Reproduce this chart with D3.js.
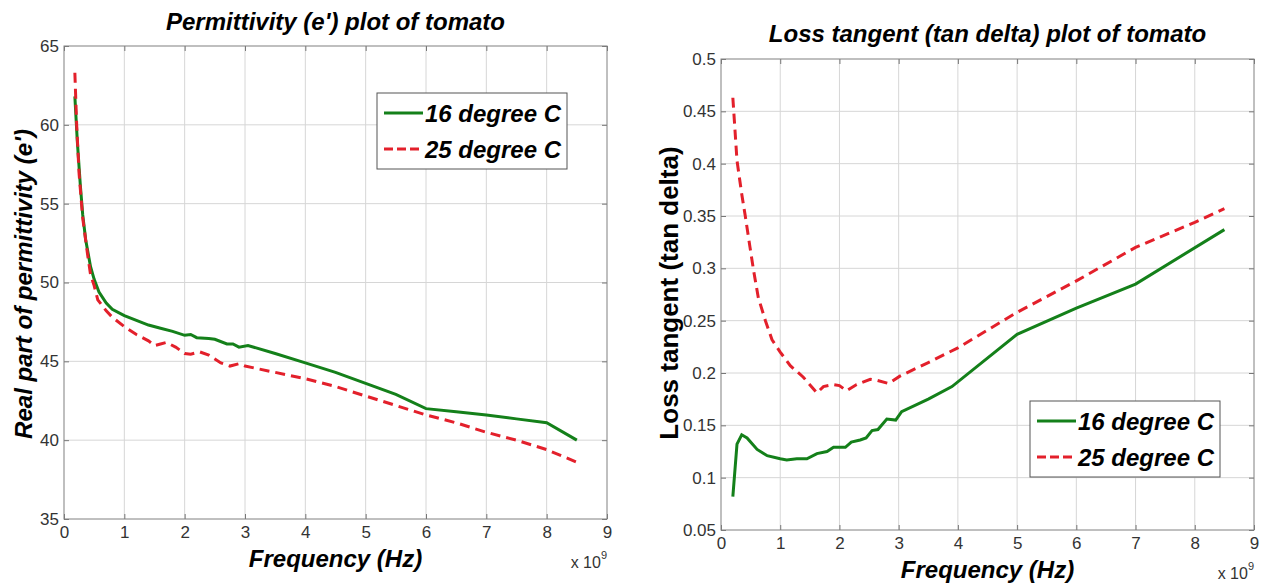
<!DOCTYPE html>
<html>
<head>
<meta charset="utf-8">
<script src="https://cdn.jsdelivr.net/npm/d3@7"></script>
<style>
  body { margin: 0; background: #fff; }
  svg text { font-family: "Liberation Sans", Arial, sans-serif; }
</style>
</head>
<body>
<div id="my_dataviz"></div>
<script>
// frequencies are in units of 10^9 Hz (the axes show "x 10^9")
const freqPerm16 = [0.18, 0.22, 0.27, 0.31, 0.36, 0.44, 0.5, 0.58, 0.7, 0.8, 1.0, 1.2, 1.4, 1.6, 1.8, 2.0, 2.1, 2.2, 2.4, 2.5, 2.7, 2.8, 2.9, 3.05, 3.5, 4.0, 4.5, 5.0, 5.5, 6.0, 6.5, 7.0, 7.5, 8.0, 8.5];
const perm16 = [61.8, 59.0, 56.2, 54.3, 52.7, 51.0, 50.2, 49.4, 48.7, 48.3, 47.9, 47.6, 47.3, 47.1, 46.9, 46.65, 46.7, 46.5, 46.45, 46.4, 46.1, 46.1, 45.9, 46.0, 45.5, 44.9, 44.3, 43.6, 42.9, 42.0, 41.8, 41.6, 41.35, 41.1, 40.0];

const freqPerm25 = [0.18, 0.21, 0.25, 0.31, 0.39, 0.44, 0.5, 0.56, 0.7, 0.8, 1.0, 1.2, 1.4, 1.5, 1.6, 1.7, 1.85, 2.0, 2.1, 2.25, 2.4, 2.6, 2.75, 2.9, 3.0, 3.5, 4.0, 4.5, 5.0, 5.5, 6.0, 6.5, 7.0, 7.5, 8.0, 8.5];
const perm25 = [63.3, 60.0, 56.9, 54.1, 51.8, 50.5, 49.8, 48.9, 48.2, 47.8, 47.2, 46.7, 46.3, 46.0, 46.1, 46.2, 45.9, 45.5, 45.45, 45.6, 45.4, 44.9, 44.7, 44.85, 44.7, 44.3, 43.9, 43.4, 42.8, 42.2, 41.6, 41.1, 40.5, 40.0, 39.4, 38.6];

const freqLoss16 = [0.2, 0.27, 0.35, 0.44, 0.61, 0.78, 1.0, 1.11, 1.28, 1.45, 1.62, 1.79, 1.9, 2.1, 2.2, 2.35, 2.45, 2.55, 2.65, 2.8, 2.95, 3.05, 3.5, 3.9, 5.0, 6.0, 7.0, 8.5];
const loss16 = [0.082, 0.132, 0.141, 0.138, 0.127, 0.121, 0.118, 0.117, 0.118, 0.118, 0.123, 0.125, 0.129, 0.129, 0.134, 0.136, 0.138, 0.145, 0.146, 0.156, 0.155, 0.163, 0.175, 0.187, 0.237, 0.262, 0.285, 0.337];

const freqLoss25 = [0.2, 0.27, 0.35, 0.41, 0.49, 0.55, 0.63, 0.75, 0.86, 1.0, 1.17, 1.39, 1.62, 1.73, 1.9, 2.0, 2.12, 2.29, 2.52, 2.63, 2.83, 3.02, 3.5, 4.0, 5.0, 6.0, 7.0, 8.0, 8.5];
const loss25 = [0.463, 0.403, 0.371, 0.35, 0.32, 0.298, 0.272, 0.25, 0.232, 0.22, 0.207, 0.196, 0.181, 0.187, 0.189, 0.188, 0.183, 0.189, 0.194, 0.193, 0.19, 0.197, 0.21, 0.224, 0.258, 0.288, 0.32, 0.344, 0.357];

const seriesLabels = ["16 degree C", "25 degree C"];
const freqTicks = [0, 1, 2, 3, 4, 5, 6, 7, 8, 9];
const permTicks = [35, 40, 45, 50, 55, 60, 65];
const lossTicks = [0.05, 0.1, 0.15, 0.2, 0.25, 0.3, 0.35, 0.4, 0.45, 0.5];

const green = "#14801a", red = "#e3202b";

let svg = d3.select("#my_dataviz")
  .append("svg")
    .attr("width", 1268)
    .attr("height", 585);

function zip(xs, ys) {
  return xs.map(function(f, i) { return {f: f, v: ys[i]}; });
}

function drawPanel(p) {
  let x = d3.scaleLinear().domain([0, 9]).range([p.left, p.right]);
  let y = d3.scaleLinear().domain(p.yDomain).range([p.bottom, p.top]);
  let g = svg.append("g");

  // grid
  g.selectAll("vgrid")
    .data(freqTicks.slice(1, -1))
    .enter()
    .append("line")
      .attr("x1", d => x(d)).attr("x2", d => x(d))
      .attr("y1", p.top).attr("y2", p.bottom)
      .attr("stroke", "#d6d6d6");
  g.selectAll("hgrid")
    .data(p.yTicks.slice(1, -1))
    .enter()
    .append("line")
      .attr("x1", p.left).attr("x2", p.right)
      .attr("y1", d => y(d)).attr("y2", d => y(d))
      .attr("stroke", "#d6d6d6");

  // axes, ticks pointing inward like matlab
  let fmt = d => String(d);
  g.append("g").attr("transform", "translate(0," + p.bottom + ")")
    .call(d3.axisBottom(x).tickValues(freqTicks).tickFormat(fmt).tickSizeInner(-5).tickSizeOuter(0).tickPadding(p.xPad));
  g.append("g").attr("transform", "translate(" + p.left + ",0)")
    .call(d3.axisLeft(y).tickValues(p.yTicks).tickFormat(fmt).tickSizeInner(-5).tickSizeOuter(0).tickPadding(5));
  g.append("g").attr("transform", "translate(0," + p.top + ")")
    .call(d3.axisTop(x).tickValues(freqTicks).tickFormat("").tickSizeInner(-5).tickSizeOuter(0));
  g.append("g").attr("transform", "translate(" + p.right + ",0)")
    .call(d3.axisRight(y).tickValues(p.yTicks).tickFormat("").tickSizeInner(-5).tickSizeOuter(0));
  g.selectAll(".domain").remove();
  g.selectAll(".tick line").attr("stroke", "#777");
  g.selectAll(".tick text").style("font-size", "17px").style("fill", "#333");

  g.append("rect")
    .attr("x", p.left).attr("y", p.top)
    .attr("width", p.right - p.left).attr("height", p.bottom - p.top)
    .attr("fill", "none").attr("stroke", "#808080");

  // data lines
  let line = d3.line()
    .x(d => x(d.f))
    .y(d => y(d.v));
  let series = [
    {label: seriesLabels[0], color: green, dash: null, values: zip(p.f16, p.v16)},
    {label: seriesLabels[1], color: red, dash: "10,6", values: zip(p.f25, p.v25)}
  ];
  g.selectAll("myLines")
    .data(series)
    .enter()
    .append("path")
      .attr("d", d => line(d.values))
      .attr("stroke", d => d.color)
      .attr("stroke-dasharray", d => d.dash)
      .style("stroke-width", 3)
      .style("fill", "none");

  // titles
  g.append("text")
    .attr("x", (p.left + p.right) / 2).attr("y", p.titleY)
    .attr("text-anchor", "middle")
    .style("font-size", "24px").style("font-weight", "bold").style("font-style", "italic")
    .text(p.title);
  g.append("text")
    .attr("x", (p.left + p.right) / 2).attr("y", p.xLabelY)
    .attr("text-anchor", "middle")
    .style("font-size", "24px").style("font-weight", "bold").style("font-style", "italic")
    .text("Frequency (Hz)");
  g.append("text")
    .attr("transform", "translate(" + p.yLabelX + "," + p.yLabelMid + ") rotate(-90)")
    .attr("text-anchor", "middle")
    .style("font-size", p.yLabelSize).style("font-weight", "bold").style("font-style", p.yLabelStyle)
    .text(p.yLabel);

  // x 10^9 exponent
  let ex = g.append("text")
    .attr("x", p.right).attr("y", p.expY)
    .attr("text-anchor", "end")
    .style("font-size", "16px").style("fill", "#333");
  ex.append("tspan").text("x 10");
  ex.append("tspan").attr("dy", -9).style("font-size", "11px").text("9");

  // legend
  let lg = g.append("g").attr("transform", "translate(" + p.legend[0] + "," + p.legend[1] + ")");
  lg.append("rect")
    .attr("width", 190).attr("height", 76)
    .attr("fill", "#fff").attr("stroke", "#555");
  let rows = lg.selectAll("myLegend")
    .data(series)
    .enter()
    .append("g")
      .attr("transform", (d, i) => "translate(0," + (20 + i * 36) + ")");
  rows.append("line")
    .attr("x1", 7).attr("x2", 46)
    .attr("stroke", d => d.color)
    .attr("stroke-dasharray", d => d.dash ? "9,4" : null)
    .style("stroke-width", 3);
  rows.append("text")
    .attr("x", 48).attr("y", 9)
    .style("font-size", "24px").style("font-weight", "bold").style("font-style", "italic")
    .text(d => d.label);
}

drawPanel({
  left: 64, right: 607, top: 46, bottom: 519,
  yDomain: [35, 65], yTicks: permTicks, xPad: 7,
  f16: freqPerm16, v16: perm16, f25: freqPerm25, v25: perm25,
  title: "Permittivity (e') plot of tomato", titleY: 30,
  xLabelY: 567, expY: 568,
  yLabel: "Real part of permittivity (e')", yLabelX: 32, yLabelMid: 284, yLabelSize: "24px", yLabelStyle: "italic",
  legend: [377, 93]
});

drawPanel({
  left: 721, right: 1254, top: 59, bottom: 530,
  yDomain: [0.05, 0.5], yTicks: lossTicks, xPad: 7,
  f16: freqLoss16, v16: loss16, f25: freqLoss25, v25: loss25,
  title: "Loss tangent (tan delta) plot of tomato", titleY: 42,
  xLabelY: 578, expY: 579,
  yLabel: "Loss tangent (tan delta)", yLabelX: 678, yLabelMid: 293, yLabelSize: "26px", yLabelStyle: "normal",
  legend: [1030, 401]
});
</script>
</body>
</html>
